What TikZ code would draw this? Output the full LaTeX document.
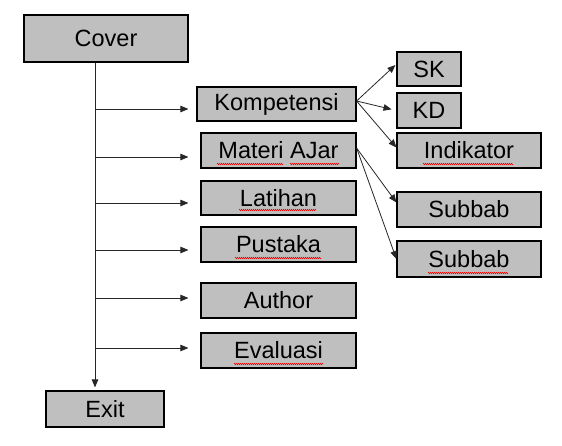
\documentclass[tikz,border=0pt]{standalone}
\usepackage{fontspec}
\setmainfont{Liberation Sans}
\usetikzlibrary{arrows.meta, calc, positioning, decorations.pathmorphing}

\begin{document}
\begin{tikzpicture}[x=1pt, y=-1pt,
        box/.style={draw=black, line width=1.2pt, fill=gray!50, inner sep=0pt, font=\fontsize{23.5}{28}\selectfont},
        arrow/.style={-{Triangle[length=8pt,width=6.5pt]}, line width=0.8pt, draw=black!85},
        spell/.style={draw=red, line width=0.5pt, decorate, decoration={zigzag, segment length=2pt, amplitude=0.7pt}}]
    \useasboundingbox (0,0) rectangle (562,445);
    % kotak menu
    \node[box, minimum width=164pt, minimum height=47pt] (cover) at (106,38.5) {Cover};
    \node[box, minimum width=159pt, minimum height=34pt] (komp) at (276.5,104) {Kompetensi};
    \node[box, minimum width=155pt, minimum height=35pt] (mat) at (278.5,150.5) {Materi AJar};
    \node[box, minimum width=155pt, minimum height=34pt] (lat) at (278.5,198) {Latihan};
    \node[box, minimum width=155pt, minimum height=35pt] (pus) at (278.5,244.5) {Pustaka};
    \node[box, minimum width=155pt, minimum height=35pt] (aut) at (278.5,300.5) {Author};
    \node[box, minimum width=155pt, minimum height=35pt] (eva) at (278.5,350.5) {Evaluasi};
    \node[box, minimum width=118pt, minimum height=36pt] (exit) at (105,409) {Exit};
    % sub menu
    \node[box, minimum width=64pt, minimum height=34pt] (sk) at (429,69) {SK};
    \node[box, minimum width=64pt, minimum height=35pt] (kd) at (429,110.5) {KD};
    \node[box, minimum width=144pt, minimum height=35pt] (ind) at (469,150.5) {Indikator};
    \node[box, minimum width=144pt, minimum height=35pt] (subA) at (469,209.5) {Subbab};
    \node[box, minimum width=144pt, minimum height=36pt] (subB) at (469,259) {Subbab};
    % garis utama
    \coordinate (trunk) at ([xshift=-11pt]cover.south);
    \draw[arrow, shorten >=3pt] (trunk) -- (trunk |- exit.north);
    \foreach \n/\s/\g in {komp/-5/8, mat/-6.5/12, lat/-5/12, pus/-5.5/12, aut/2.5/12, eva/2.5/12}
        \draw[arrow] ([yshift=\s pt]\n.west -| trunk) -- ([xshift=-\g pt, yshift=\s pt]\n.west);
    % panah cabang
    \draw[arrow] ([yshift=3pt]komp.east) -- ([xshift=-1pt, yshift=4pt]sk.west);
    \draw[arrow, shorten >=5pt] ([yshift=3pt]komp.east) -- (kd.west);
    \draw[arrow] ([yshift=3pt]komp.east) -- ([yshift=3pt]ind.west);
    \draw[arrow] ([yshift=2.5pt]mat.east) -- ([yshift=7pt]subA.west);
    \draw[arrow] ([yshift=2.5pt]mat.east) -- (subB.west);
    % garis ejaan
    \draw[spell] (217,164) -- (283,164);
    \draw[spell] (290,164) -- (339,164);
    \draw[spell] (423,164) -- (513,164);
    \draw[spell] (239,210) -- (316,210);
    \draw[spell] (235,258) -- (321,258);
    \draw[spell] (428,273) -- (508,273);
    \draw[spell] (234,364) -- (323,364);
\end{tikzpicture}
\end{document}
